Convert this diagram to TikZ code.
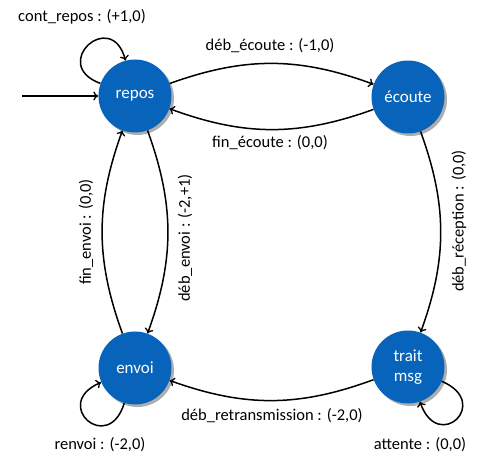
\documentclass[tikz,border=0pt]{standalone}
\usepackage{fontspec}
\setmainfont{Carlito}
\usetikzlibrary{arrows.meta,shadows}
\definecolor{stateblue}{RGB}{8,99,186}
\begin{document}
\begin{tikzpicture}[x=1pt,y=1pt,
  state/.style={circle,fill=stateblue,minimum size=73pt,inner sep=0pt,text=white,
    font=\fontsize{17}{20}\selectfont,align=center,
    drop shadow={opacity=0.45,shadow xshift=2.5pt,shadow yshift=-2.5pt,fill=black!70}},
  trans/.style={line width=1.5pt,-{Computer Modern Rightarrow[length=5pt,width=9pt,line width=1.3pt]}},
  lab/.style={font=\fontsize{16.5}{18}\selectfont,inner sep=0pt}]
\useasboundingbox (0,0) rectangle (478,457);
\node[state] (repos) at (135,361) {repos};
\node[state] (ecoute) at (408,360) {écoute};
\node[state] (envoi) at (135,89) {envoi};
\node[state] (trait) at (408,90) {trait\\msg};
\coordinate (init) at (22,361);
\draw[trans] (init) -- (repos);
\draw[trans] (repos) to[bend left=20] (ecoute);
\draw[trans] (ecoute) to[bend left=20] (repos);
\draw[trans] (ecoute) to[bend left=20] (trait);
\draw[trans] (trait) to[bend left=20] (envoi);
\draw[trans] (repos) to[bend left=20] (envoi);
\draw[trans] (envoi) to[bend left=20] (repos);
\draw[trans] (repos.160) .. controls +(160:55) and +(105:55) .. (repos.105);
\draw[trans] (envoi.253) .. controls +(253:55) and +(203:55) .. (envoi.203);
\draw[trans] (trait.337) .. controls +(337:55) and +(289:55) .. (trait.289);
\node[lab] (l1) at (82,440) {cont\_repos : (+1,0)};
\node[lab] (l2) at (270,411) {déb\_écoute : (-1,0)};
\node[lab] (l3) at (270,314) {fin\_écoute : (0,0)};
\node[lab,rotate=90] (l4) at (459,236) {déb\_réception : (0,0)};
\node[lab] (l5) at (272,41) {déb\_retransmission : (-2,0)};
\node[lab,rotate=90] (l6) at (86,225) {fin\_envoi : (0,0)};
\node[lab,rotate=90] (l7) at (185,219) {déb\_envoi : (-2,+1)};
\node[lab] (l8) at (100,12) {renvoi : (-2,0)};
\node[lab] (l9) at (420,12) {attente : (0,0)};
\end{tikzpicture}
\end{document}
